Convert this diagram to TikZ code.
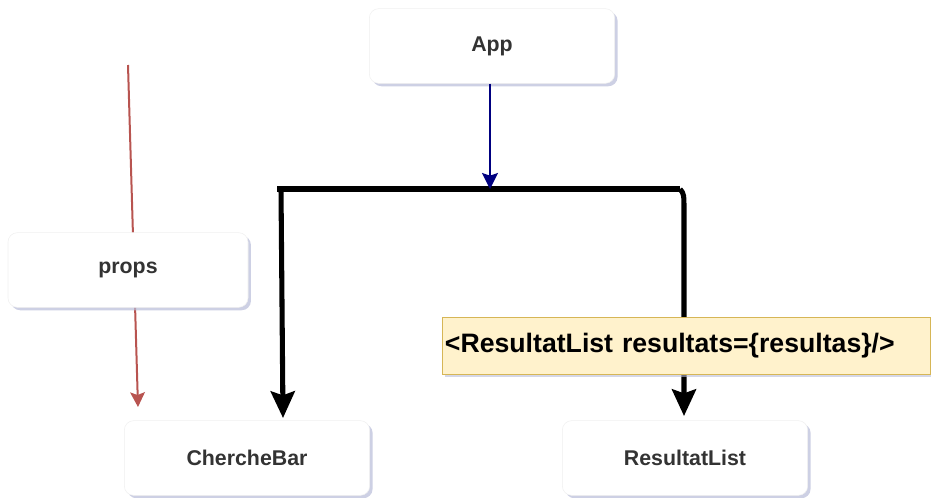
\documentclass[tikz,border=0pt]{standalone}
\usepackage{fontspec}
\setmainfont{Liberation Sans}
\usetikzlibrary{shadows,arrows.meta}
\definecolor{boxtext}{HTML}{333333}
\definecolor{shade}{HTML}{B8BCD8}
\definecolor{noteFill}{HTML}{FFF2CC}
\definecolor{noteLine}{HTML}{D6B656}
\definecolor{propsRed}{HTML}{B85450}
\definecolor{navy}{HTML}{000080}
\tikzset{
  card/.style={draw=gray!12, fill=white, rounded corners=7pt, minimum width=184pt, minimum height=56pt,
    font=\bfseries\fontsize{16}{18}\selectfont, text=boxtext,
    drop shadow={shadow xshift=2.2pt, shadow yshift=-2.2pt, fill=shade, opacity=0.7}},
  note/.style={draw=noteLine, fill=noteFill, minimum height=43pt, text width=362pt, inner sep=2pt,
    align=left, font=\bfseries\fontsize{20}{22}\selectfont, text=black,
    drop shadow={shadow xshift=2pt, shadow yshift=-2pt, fill=shade, opacity=0.6}},
  thick link/.style={line width=3.8pt, black},
  bigtip/.style={-{Stealth[length=20pt,width=18pt,inset=3pt]}}
}
\begin{document}
\begin{tikzpicture}[x=0.75pt,y=-0.75pt]
\useasboundingbox (0,0) rectangle (931,497);
% props flow, drawn first so the props card covers it
\coordinate (pstart) at (128,65);
\coordinate (pend) at (138,407);
\draw[propsRed, line width=1.5pt, -{Stealth[length=11pt,width=11pt,inset=2pt]}] (pstart) -- (pend);
\node[card, minimum width=180pt] (props) at (128,270) {props};

\node[card] (app) at (492,46) {App};
\node[card] (cherche) at (247,458) {ChercheBar};
\node[card] (result) at (685,458) {ResultatList};

% branch bar
\coordinate (bl) at (277,189);
\coordinate (br) at (680,189);
\coordinate (bm) at (490,189);
\draw[thick link, line cap=butt] (bl) -- (br);
\draw[navy, line width=1.5pt, -{Stealth[length=12pt,width=12pt,inset=2pt]}] (app.south -| bm) -- (bm);
\draw[thick link, bigtip] ([xshift=3pt]bl) -- (283,418);
\draw[thick link, bigtip] (br) .. controls (684,194) .. (684,212) -- (684,416);

\node[note, anchor=west] (tag) at (442,346) {<ResultatList resultats=\{resultas\}/>};
\end{tikzpicture}
\end{document}
